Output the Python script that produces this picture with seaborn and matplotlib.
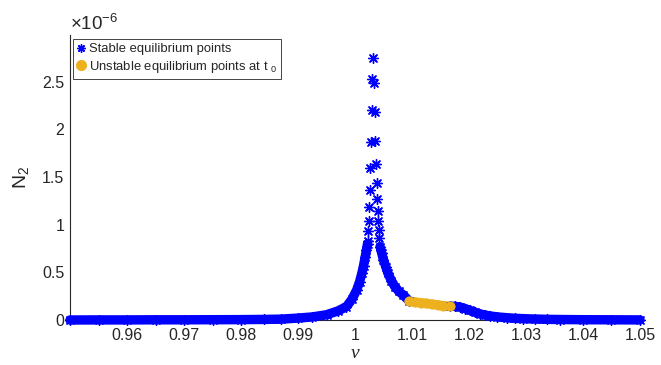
import matplotlib
matplotlib.use("Agg")
import matplotlib.pyplot as plt
from matplotlib.lines import Line2D
import seaborn as sns

# ---------------- data (N2 in units of 1e-6) ----------------
# stable branch, left side (dense band)
nu_left = [0.950, 0.955, 0.960, 0.965, 0.970, 0.975, 0.980, 0.984, 0.987,
           0.990, 0.9925, 0.9950, 0.9970, 0.9985, 0.9995, 1.0003, 1.0008,
           1.0012, 1.0015, 1.0018, 1.0020, 1.0022]
n2_left = [0.000, 0.001, 0.001, 0.002, 0.002, 0.003, 0.004, 0.006, 0.009,
           0.020, 0.032, 0.055, 0.095, 0.140, 0.220, 0.315, 0.400,
           0.490, 0.570, 0.665, 0.730, 0.800]

# stable branch, isolated points near the peak
nu_peak = [1.00228, 1.00233, 1.00246, 1.00251, 1.00258, 1.00268, 1.00281,
           1.00298, 1.00304, 1.00321, 1.00339, 1.00346, 1.00356, 1.00368,
           1.00381, 1.00386, 1.00398, 1.00404, 1.00416, 1.00426]
n2_peak = [0.83, 0.93, 1.04, 1.19, 1.36, 1.59, 1.87,
           2.20, 2.53, 2.75, 2.49, 2.18, 1.88, 1.635,
           1.435, 1.27, 1.14, 1.04, 0.945, 0.86]

# stable branch, right side of the peak (dense band)
nu_right = [1.0044, 1.0047, 1.0050, 1.0054, 1.0058, 1.0064, 1.0070, 1.0077,
            1.0085, 1.0095]
n2_right = [0.77, 0.70, 0.63, 0.56, 0.49, 0.41, 0.35, 0.30, 0.26, 0.20]

# unstable points at t0
nu_unst = [1.0095, 1.0105, 1.0115, 1.0125, 1.0135, 1.0145, 1.0155, 1.0167]
n2_unst = [0.195, 0.188, 0.181, 0.174, 0.166, 0.158, 0.150, 0.142]

# stable branch, tail
nu_tail = [1.0167, 1.0175, 1.0184, 1.0193, 1.0202, 1.0211, 1.0219, 1.0228,
           1.0237, 1.0250, 1.0266, 1.0280, 1.0295, 1.0315, 1.0336, 1.0360,
           1.0400, 1.0450, 1.0500]
n2_tail = [0.145, 0.143, 0.135, 0.120, 0.100, 0.080, 0.064, 0.052,
           0.042, 0.032, 0.024, 0.018, 0.014, 0.010, 0.007, 0.005,
           0.003, 0.002, 0.001]

x_ticks = [0.96, 0.97, 0.98, 0.99, 1.00, 1.01, 1.02, 1.03, 1.04, 1.05]
x_tick_labels = ["0.96", "0.97", "0.98", "0.99", "1", "1.01", "1.02", "1.03", "1.04", "1.05"]
y_ticks = [0, 0.5, 1, 1.5, 2, 2.5]
y_tick_labels = ["0", "0.5", "1", "1.5", "2", "2.5"]

label_stable = "Stable equilibrium points"
label_unstable = "Unstable equilibrium points at t $_{0}$"

# ---------------- style ----------------
sns.set_style("white")
plt.rcParams['font.family'] = ['Liberation Sans', 'DejaVu Sans']
plt.rcParams['mathtext.fontset'] = 'custom'
plt.rcParams['mathtext.rm'] = 'Liberation Sans'
plt.rcParams['mathtext.it'] = 'Liberation Sans:italic'

BLUE = (0, 0, 1)
ORANGE = "#EDB120"
STAR = (8, 2, 0)
DARK = '#262626'

fig = plt.figure(figsize=(6.61, 3.65), dpi=100)
ax = fig.add_axes([70/661, 45/365, 570/661, 285/365])

band_kw = dict(linewidth=6.8, solid_capstyle='round', sort=False,
               estimator=None, clip_on=False, zorder=3, legend=False)
star_kw = dict(marker=STAR, s=50, linewidth=1.0, clip_on=False, zorder=4,
               legend=False)

for xs, ys in [(nu_left, n2_left), (nu_right, n2_right), (nu_tail, n2_tail)]:
    sns.lineplot(x=xs, y=ys, color=BLUE, ax=ax, **band_kw)
    sns.scatterplot(x=xs, y=ys, color=BLUE, ax=ax, **star_kw)

sns.scatterplot(x=nu_peak, y=n2_peak, color=BLUE, ax=ax, **star_kw)

sns.lineplot(x=nu_unst, y=n2_unst, color=ORANGE, ax=ax, **band_kw)
sns.scatterplot(x=nu_unst, y=n2_unst, color=ORANGE, edgecolor=ORANGE,
                marker='o', s=45, clip_on=False, zorder=4, legend=False, ax=ax)

ax.set_xlim(0.95, 1.05)
ax.set_ylim(0, 2.99)
ax.set_xticks(x_ticks)
ax.set_xticklabels(x_tick_labels)
ax.set_yticks(y_ticks)
ax.set_yticklabels(y_tick_labels)

for side in ['top', 'right']:
    ax.spines[side].set_visible(False)
for side in ['left', 'bottom']:
    ax.spines[side].set_color(DARK)
    ax.spines[side].set_linewidth(0.8)
ax.tick_params(axis='both', direction='in', length=4, width=0.8,
               color='#808080', labelsize=11.5, labelcolor=DARK)
ax.tick_params(axis='x', pad=6)
ax.tick_params(axis='y', pad=4)

ax.set_xlabel("ν", fontsize=14, color=DARK, labelpad=1,
              family='Liberation Serif', style='italic')
ax.set_ylabel(r"N$_{2}$", fontsize=14, color=DARK, labelpad=8)

ax.text(0.0, 1.005, "×10$^{-6}$", transform=ax.transAxes, ha='left',
        va='bottom', fontsize=13.5, color=DARK)

handles = [Line2D([], [], marker=STAR, color=BLUE, linestyle='none',
                  markersize=6, markeredgewidth=1.0),
           Line2D([], [], marker='o', color=ORANGE, linestyle='none',
                  markersize=7)]
leg = ax.legend(handles, [label_stable, label_unstable], loc='upper left',
                bbox_to_anchor=(0.005, 0.985), fontsize=9.4, frameon=True,
                fancybox=False, edgecolor=DARK, framealpha=1,
                handlelength=0.6, handletextpad=0.3, borderpad=0.3,
                labelspacing=0.25, borderaxespad=0)
leg.get_frame().set_linewidth(0.6)

fig.savefig("out.png", dpi=100)
